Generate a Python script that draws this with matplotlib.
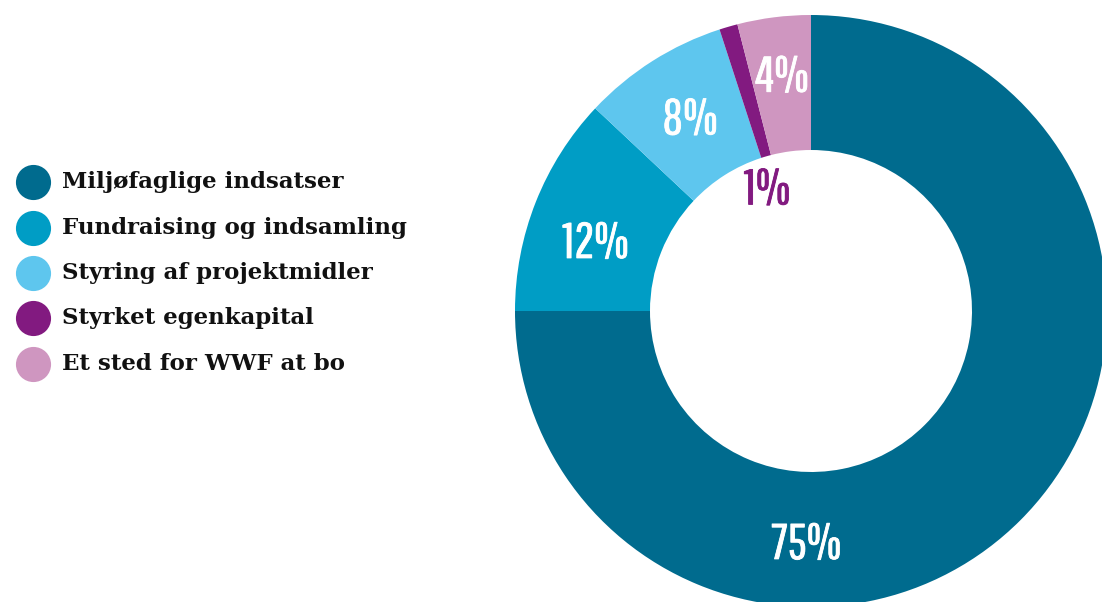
import numpy as np
import matplotlib
matplotlib.use("Agg")
import matplotlib.pyplot as plt
import matplotlib.patheffects as pe

# data
categories = ["Miljøfaglige indsatser", "Fundraising og indsamling",
              "Styring af projektmidler", "Styrket egenkapital", "Et sted for WWF at bo"]
shares = [75, 12, 8, 1, 4]
colors = ["#006b8e", "#009dc5", "#5ec6ee", "#821a80", "#cf96c0"]

# label placement (angle in degrees, radius in px) and text colour
label_pos = [(-91.2, 229), (161.5, 227), (121.7, 230), (109.2, 133), (96.9, 240)]
label_colors = ["white", "white", "white", "#821a80", "white"]

W, H = 1102, 602
cx, cy = 811, H - 311
R_out, R_in = 296, 161

fig = plt.figure(figsize=(W / 100, H / 100), dpi=100)
ax = fig.add_axes([0, 0, 1, 1])

wedges, _ = ax.pie(shares, colors=colors, startangle=90, counterclock=False,
                   center=(cx, cy), radius=R_out, frame=True,
                   wedgeprops=dict(width=R_out - R_in, linewidth=0))
ax.set_xlim(0, W)
ax.set_ylim(0, H)
ax.set_aspect("equal")
ax.axis("off")

for val, (ang, r), col in zip(shares, label_pos, label_colors):
    x = cx + r * np.cos(np.radians(ang))
    y = cy + r * np.sin(np.radians(ang))
    ax.text(x, y - 19, f"{val}%", ha="center", va="baseline", color=col,
            fontsize=36, family=["Pathway Gothic One", "DejaVu Sans"],
            path_effects=[pe.withStroke(linewidth=0.6, foreground=col)])

# legend
leg_y = [182, 228, 273, 318, 364]
for name, col, ly in zip(categories, colors, leg_y):
    ax.scatter([33], [H - ly], s=640, color=col, linewidths=0)
    ax.text(62, H - ly, name, ha="left", va="center", fontsize=16.5,
            fontweight="bold", color="#111111", family="DejaVu Serif")

fig.savefig("out.png", dpi=100)
